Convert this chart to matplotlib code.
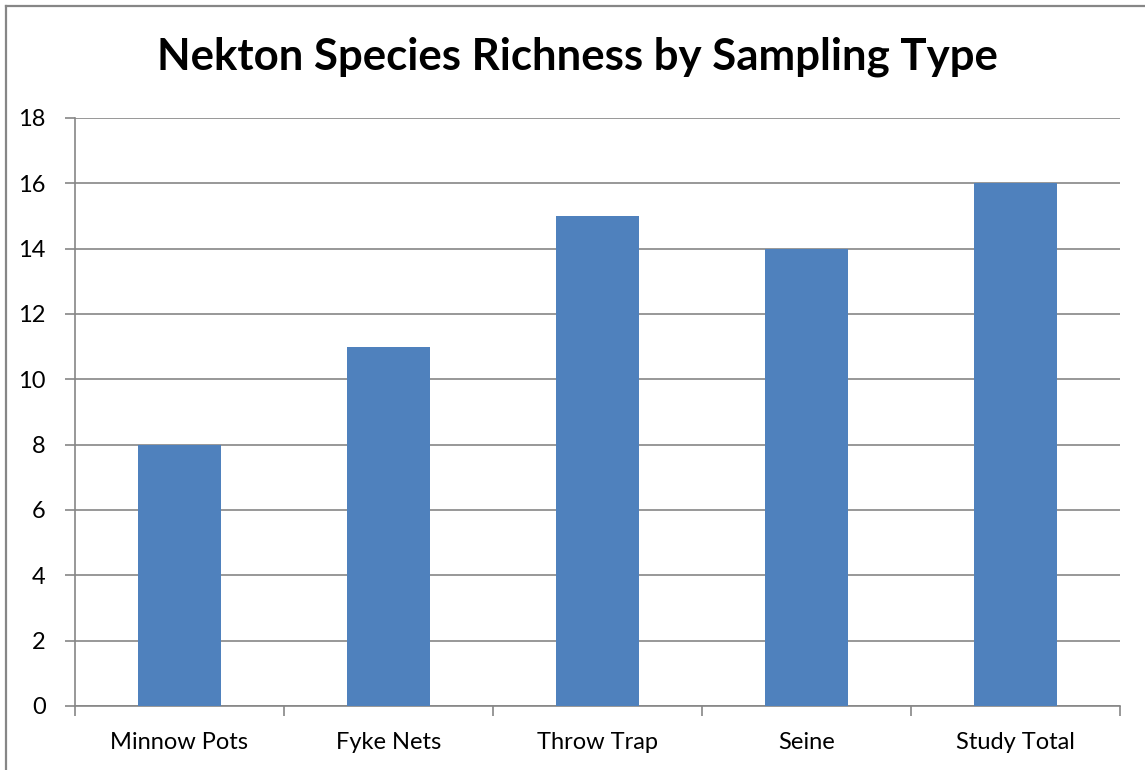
import matplotlib
matplotlib.use("Agg")
import matplotlib.pyplot as plt
from matplotlib.lines import Line2D
import numpy as np

categories = ["Minnow Pots", "Fyke Nets", "Throw Trap", "Seine", "Study Total"]
richness = [8, 11, 15, 14, 16]
yticks = [0, 2, 4, 6, 8, 10, 12, 14, 16, 18]
title = "Nekton Species Richness by Sampling Type"

plt.rcParams['font.family'] = ['Lato', 'DejaVu Sans']
W, H = 1145, 770
fig = plt.figure(figsize=(W / 100, H / 100), dpi=100)
ax = fig.add_axes([75 / W, (H - 706) / H, (1120 - 75) / W, (706 - 118) / H])

gray = "#868686"
x = np.arange(len(categories))
ax.bar(x, richness, width=0.4, color="#4F81BD", zorder=3)
ax.set_xlim(-0.5, len(categories) - 0.5)
ax.set_ylim(0, 18)
ax.set_yticks(yticks)
ax.set_yticklabels([str(v) for v in yticks], fontsize=17)
ax.yaxis.grid(True, color=gray, linewidth=1.2, zorder=0)
ax.set_xticks(x)
ax.set_xticklabels(categories, fontsize=17)
ax.set_xticks(np.arange(-0.5, len(categories)), minor=True)
ax.tick_params(axis='x', which='major', length=0, pad=19)
ax.tick_params(axis='x', which='minor', length=7, width=1.2, color=gray, direction='out')
ax.tick_params(axis='y', length=7, width=1.2, color=gray, pad=14)
for s in ['top', 'right']:
    ax.spines[s].set_visible(False)
for s in ['left', 'bottom']:
    ax.spines[s].set_color(gray)
    ax.spines[s].set_linewidth(1.2)

fig.text(577 / W, 1 - 57 / H, title, ha='center', va='center', fontsize=31.5, fontweight='bold')

fig.add_artist(Line2D([5.5 / W, 5.5 / W], [0, 1 - 5.5 / H], transform=fig.transFigure, color=gray, linewidth=1.6))
fig.add_artist(Line2D([5.5 / W, 1], [1 - 5.5 / H, 1 - 5.5 / H], transform=fig.transFigure, color=gray, linewidth=1.6))

fig.savefig("out.png", dpi=100)
